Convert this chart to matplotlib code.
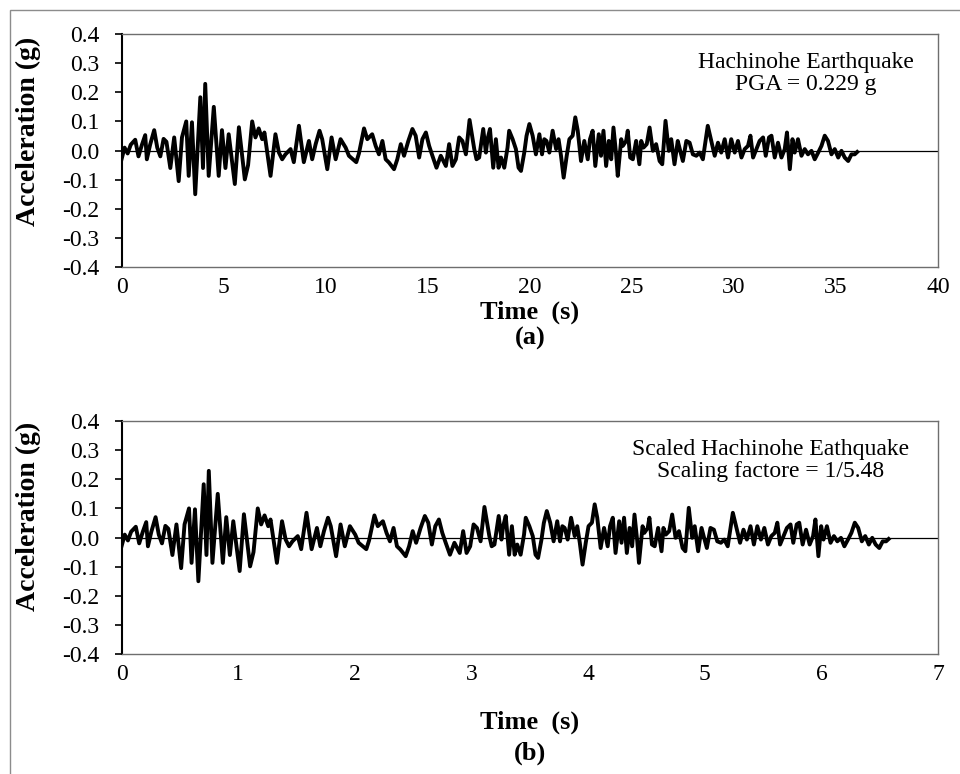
import matplotlib.pyplot as plt
from matplotlib.patches import Rectangle

# Hachinohe record: time (s) and acceleration (g)
time_a = [0.00, 0.15, 0.30, 0.45, 0.67, 0.83, 1.00, 1.16, 1.24, 1.40, 1.60, 1.75, 1.90,
          2.06, 2.20, 2.39, 2.58, 2.80, 2.96, 3.17, 3.29, 3.45, 3.61, 3.86, 3.99, 4.10,
          4.27, 4.52, 4.76, 4.92, 5.09, 5.25, 5.55, 5.75, 6.04, 6.20, 6.40, 6.56, 6.72,
          6.89, 7.00, 7.30, 7.54, 7.71, 7.87, 8.03, 8.28, 8.44, 8.69, 8.93, 9.18, 9.34,
          9.51, 9.70, 9.83, 10.08, 10.29, 10.49, 10.73, 10.98, 11.14, 11.50, 11.63, 11.88,
          12.04, 12.28, 12.45, 12.61, 12.78, 12.94, 13.10, 13.35, 13.51, 13.68, 13.84,
          14.05, 14.25, 14.41, 14.58, 14.74, 14.91, 15.07, 15.23, 15.43, 15.64, 15.89,
          16.05, 16.21, 16.38, 16.54, 16.70, 16.87, 17.05, 17.28, 17.39, 17.52, 17.72,
          17.85, 17.93, 18.05, 18.21, 18.34, 18.47, 18.59, 18.75, 18.91, 18.99, 19.16,
          19.32, 19.45, 19.57, 19.73, 19.84, 19.98, 20.14, 20.30, 20.47, 20.60, 20.71,
          20.82, 20.96, 21.12, 21.29, 21.41, 21.53, 21.66, 21.81, 21.94, 22.10, 22.23,
          22.35, 22.51, 22.67, 22.84, 22.95, 23.08, 23.21, 23.38, 23.49, 23.61, 23.74,
          23.87, 23.99, 24.10, 24.23, 24.31, 24.48, 24.56, 24.72, 24.80, 24.92, 25.05,
          25.21, 25.37, 25.46, 25.57, 25.73, 25.87, 26.03, 26.19, 26.36, 26.49, 26.65,
          26.81, 26.93, 27.09, 27.25, 27.37, 27.50, 27.67, 27.83, 27.99, 28.16, 28.32,
          28.48, 28.72, 29.06, 29.22, 29.38, 29.55, 29.71, 29.87, 30.04, 30.20, 30.37,
          30.53, 30.69, 30.81, 30.94, 31.10, 31.26, 31.43, 31.56, 31.72, 31.84, 32.00,
          32.16, 32.33, 32.49, 32.60, 32.74, 32.87, 32.98, 33.14, 33.31, 33.47, 33.63,
          33.80, 33.96, 34.13, 34.29, 34.45, 34.61, 34.78, 34.94, 35.11, 35.27, 35.43,
          35.60, 35.76, 35.92, 36.04]
acc = [-0.030, 0.010, -0.010, 0.020, 0.037, -0.020, 0.020, 0.053, -0.030, 0.020, 0.070,
       0.010, -0.020, 0.040, 0.030, -0.060, 0.045, -0.105, 0.045, 0.100, -0.087, 0.097,
       -0.150, 0.183, -0.060, 0.229, -0.087, 0.150, -0.087, 0.070, -0.060, 0.056, -0.115,
       0.080, -0.099, -0.050, 0.100, 0.045, 0.076, 0.039, 0.062, -0.087, 0.056, -0.007,
       -0.030, -0.013, 0.005, -0.040, 0.085, -0.040, 0.033, -0.030, 0.022, 0.068, 0.039,
       -0.064, 0.045, -0.030, 0.039, 0.010, -0.018, -0.040, -0.010, 0.076, 0.039, 0.056,
       0.016, -0.013, 0.033, -0.030, -0.041, -0.064, -0.030, 0.022, -0.018, 0.033, 0.074,
       0.051, -0.024, 0.039, 0.062, 0.016, -0.018, -0.059, -0.018, -0.053, 0.022, -0.053,
       -0.030, 0.045, 0.033, -0.013, 0.105, 0.005, -0.030, -0.024, 0.074, -0.007, 0.039,
       0.074, -0.059, 0.039, -0.059, -0.024, -0.059, 0.010, 0.068, 0.039, 0.005, -0.059,
       -0.070, -0.007, 0.050, 0.091, 0.051, -0.013, 0.056, -0.013, 0.039, 0.033, -0.007,
       0.068, 0.005, 0.039, -0.018, -0.093, -0.018, 0.039, 0.051, 0.114, 0.068, -0.036,
       0.033, -0.030, 0.039, 0.068, -0.053, 0.056, -0.018, 0.068, -0.053, 0.033, -0.030,
       0.079, -0.013, -0.087, 0.039, 0.016, 0.033, 0.068, -0.024, -0.030, 0.033, -0.047,
       0.033, 0.010, 0.022, 0.079, -0.001, 0.022, -0.036, -0.047, 0.102, -0.001, 0.039,
       -0.047, 0.033, -0.001, -0.036, 0.033, 0.027, -0.013, -0.018, -0.007, -0.030, 0.085,
       -0.018, 0.027, -0.007, 0.039, -0.024, 0.039, -0.007, 0.033, -0.024, 0.005, 0.016,
       0.051, -0.024, 0.005, 0.033, 0.045, -0.018, 0.045, 0.051, -0.024, 0.027, -0.024,
       0.005, 0.062, -0.064, 0.039, -0.007, 0.039, -0.018, 0.005, -0.013, -0.001, -0.030,
       -0.007, 0.016, 0.051, 0.033, -0.013, 0.005, -0.024, -0.001, -0.024, -0.036, -0.013,
       -0.013, -0.005]

# panel (b) is the same record with its time axis compressed
scale_factor = 5.48
time_b = [t / scale_factor for t in time_a]

y_ticks = [-0.4, -0.3, -0.2, -0.1, 0.0, 0.1, 0.2, 0.3, 0.4]
x_ticks_a = [0, 5, 10, 15, 20, 25, 30, 35, 40]
x_ticks_b = [0, 1, 2, 3, 4, 5, 6, 7]

plt.rcParams['font.family'] = ['Liberation Serif', 'DejaVu Serif']

fig = plt.figure(figsize=(9.6, 7.74), dpi=100)
# outer frame of the figure
fig.patches.append(Rectangle((10 / 960, -0.1), 1.2, 1.1 - 10 / 774, transform=fig.transFigure,
                             fill=False, edgecolor='#8c8c8c', linewidth=1.0))

ax_a = fig.add_axes([0.1266, 0.655, 0.8505, 0.301])
ax_b = fig.add_axes([0.1266, 0.155, 0.8505, 0.301])


def style_axis(ax, t, a, xticks, xmax, note, note_x):
    ax.plot(t, a, color='black', linewidth=2.8, solid_joinstyle='round', zorder=3)
    ax.axhline(0, color='black', linewidth=0.9, zorder=2)
    ax.set_xlim(0, xmax)
    ax.set_ylim(-0.4, 0.4)
    ax.set_yticks(y_ticks)
    ax.set_yticklabels(['%.1f' % v for v in y_ticks])
    ax.set_xticks(xticks)
    ax.tick_params(axis='x', length=0, pad=7, labelsize=17)
    ax.tick_params(axis='y', direction='out', length=5, width=1.2, pad=11, labelsize=17)
    for side in ['top', 'right', 'bottom']:
        ax.spines[side].set_color('#6e6e6e')
        ax.spines[side].set_linewidth(1.0)
    ax.spines['left'].set_color('black')
    ax.spines['left'].set_linewidth(1.5)
    ax.text(note_x, 0.832, note, transform=ax.transAxes, ha='center', va='center',
            fontsize=17, linespacing=1.05)


style_axis(ax_a, time_a, acc, x_ticks_a, 40, 'Hachinohe Earthquake\nPGA = 0.229 g', 0.838)
style_axis(ax_b, time_b, acc, x_ticks_b, 7,
           'Scaled Hachinohe Eathquake\nScaling factore = 1/5.48', 0.795)

# axis titles and panel captions
label_font = dict(fontsize=19, fontweight='bold', ha='center', va='center')
fig.text(0.030, 0.830, 'Acceleration (g)', rotation=90, **{**label_font, 'fontsize': 20})
fig.text(0.030, 0.333, 'Acceleration (g)', rotation=90, **{**label_font, 'fontsize': 20})
fig.text(0.552, 0.597, 'Time  (s)', **label_font)
fig.text(0.552, 0.563, '(a)', **label_font)
fig.text(0.552, 0.067, 'Time  (s)', **label_font)
fig.text(0.552, 0.027, '(b)', **label_font)

fig.savefig('out.png', dpi=100)
